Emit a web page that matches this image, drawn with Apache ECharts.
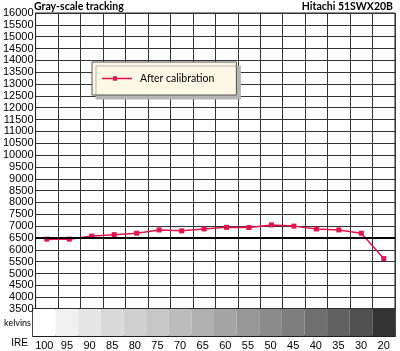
<!DOCTYPE html>
<html><head><meta charset="utf-8">
<script src="https://cdn.jsdelivr.net/npm/echarts@6/dist/echarts.min.js"></script>
<style>html,body{margin:0;padding:0;background:#fff}#c{width:400px;height:351px}</style>
</head><body><div id="c"></div>
<script>
const categories = ['100','95','90','85','80','75','70','65','60','55','50','45','40','35','30','20'];
const afterCalibration = [6450,6450,6580,6640,6700,6840,6800,6880,6950,6940,7050,7000,6880,6840,6700,5630];
const bandShades = ['#ffffff','#f0f0f0','#e5e5e5','#dadada','#d0d0d0','#c6c6c6','#bcbcbc','#b0b0b0','#a4a4a4','#989898','#8b8b8b','#7e7e7e','#6f6f6f','#606060','#505050','#333333'];
const titleText = 'Gray-scale tracking';
const modelText = 'Hitachi 51SWX20B';
const seriesName = 'After calibration';

const chart = echarts.init(document.getElementById('c'), null, {renderer:'canvas'});
const font = 'Liberation Sans, Arial, sans-serif';
chart.setOption({
  animation:false,
  backgroundColor:'#fff',
  title:[
    {text:titleText,left:34,top:1,padding:0,textStyle:{fontFamily:'Lato',fontWeight:'bold',fontSize:10.5,color:'#000'}},
    {text:modelText,right:7,top:1,padding:0,textStyle:{fontFamily:'Lato',fontWeight:'bold',fontSize:10.5,color:'#000'}}
  ],
  legend:{
    data:[{name:seriesName,icon:'path://M0,4.2L11,4.2L11,2.8L15,2.8L15,4.2L30,4.2L30,5.8L15,5.8L15,7.2L11,7.2L11,5.8L0,5.8Z'}],
    left:92, top:62, orient:'horizontal',
    padding:[11,22,11,10], itemWidth:30, itemHeight:10, itemGap:0,
    backgroundColor:'#fdf8e6', borderColor:'#555', borderWidth:1,
    shadowColor:'#b5b5b5', shadowOffsetX:4, shadowOffsetY:4, shadowBlur:0,
    textStyle:{fontFamily:'Lato',fontSize:10.5,color:'#000',padding:[0,0,0,3]}
  },
  grid:[
    {left:33,right:5,top:13,height:296,show:true,borderColor:'#222',borderWidth:1},
    {left:33,right:5,top:309,height:27,show:true,borderColor:'#111',borderWidth:1.5}
  ],
  xAxis:[
    {type:'category',gridIndex:0,data:categories,boundaryGap:true,
     axisLine:{show:false},axisTick:{show:false},axisLabel:{show:false},
     splitLine:{show:true,interval:0,lineStyle:{color:'#333',width:1}}},
    {type:'category',gridIndex:1,data:categories,boundaryGap:true,
     axisLine:{show:true,lineStyle:{color:'#111',width:1.5}},axisTick:{show:false},
     axisLabel:{show:true,interval:0,margin:4,fontFamily:font,fontSize:11,color:'#000'}}
  ],
  yAxis:[
    {type:'value',gridIndex:0,min:3500,max:16000,interval:500,
     axisLine:{show:true,lineStyle:{color:'#222'}},axisTick:{show:false},
     axisLabel:{margin:2,fontFamily:font,fontSize:11,color:'#000',formatter:v=>String(v)},
     splitLine:{show:true,lineStyle:{color:'#333',width:1}}},
    {type:'value',gridIndex:1,min:0,max:1,show:false}
  ],
  graphic:[
    {type:'text',x:31,y:323,style:{text:'kelvins',font:'9px Lato',fill:'#000',textAlign:'right',textVerticalAlign:'middle'}},
    {type:'text',x:28,y:343,style:{text:'IRE',font:'10px Liberation Sans',fill:'#000',textAlign:'right',textVerticalAlign:'middle'}}
  ],
  series:[
    {type:'bar',xAxisIndex:1,yAxisIndex:1,barWidth:'100%',barCategoryGap:0,silent:true,
     data:bandShades.map(c=>({value:1,itemStyle:{color:c}}))},
    {name:seriesName,type:'line',xAxisIndex:0,yAxisIndex:0,data:afterCalibration,
     symbol:'rect',symbolSize:5,lineStyle:{color:'#e3134e',width:1.5},itemStyle:{color:'#e3134e'},
     markLine:{silent:true,symbol:'none',label:{show:false},lineStyle:{color:'#000',width:2,type:'solid'},data:[{yAxis:6500}]}}
  ]
});
</script></body></html>
